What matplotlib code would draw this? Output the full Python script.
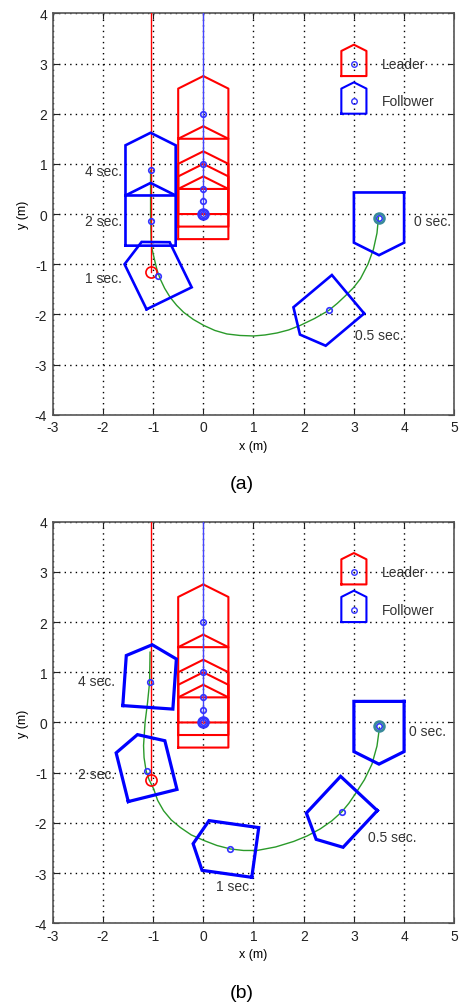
import numpy as np
import matplotlib
matplotlib.use('Agg')
import matplotlib.pyplot as plt

plt.rcParams['font.family'] = ['Liberation Sans', 'DejaVu Sans']
plt.rcParams['axes.unicode_minus'] = False

# leader: moves straight up along x = 0
leader_times = [0, 0.5, 1, 2, 4]
leader_x = [0, 0, 0, 0, 0]
leader_y = [0, 0.25, 0.5, 1.0, 2.0]

# desired follower spot (red circle) and its line
desired_x = -1.05
desired_y = -1.15

# follower snapshots, case (a)
fol_a_times = ['0 sec.', '0.5 sec.', '1 sec.', '2 sec.', '4 sec.']
fol_a_x = [3.5, 2.5, -0.9, -1.05, -1.05]
fol_a_y = [-0.07, -1.92, -1.23, -0.13, 0.87]
fol_a_head = [-90, -140, 116, 90, 90]

# follower snapshots, case (b)
fol_b_times = ['0 sec.', '0.5 sec.', '1 sec.', '2 sec.', '4 sec.']
fol_b_x = [3.5, 2.76, 0.54, -1.13, -1.07]
fol_b_y = [-0.08, -1.78, -2.52, -0.97, 0.80]
fol_b_head = [-90, -133, 172, 104, 86]

# follower paths (green)
path_a_x = [3.49, 3.46, 3.39, 3.28, 3.13, 2.99, 2.83, 2.67, 2.5, 2.22, 1.93,
            1.70, 1.47, 1.23, 1.0, 0.73, 0.47, 0.23, 0.01, -0.20, -0.39,
            -0.53, -0.66, -0.77, -0.86, -0.92, -0.96, -1.02, -1.04, -1.05,
            -1.05]
path_a_y = [-0.06, -0.38, -0.70, -1.00, -1.29, -1.47, -1.63, -1.78, -1.92,
            -2.08, -2.22, -2.31, -2.37, -2.41, -2.43, -2.42, -2.39, -2.32,
            -2.22, -2.10, -1.96, -1.82, -1.66, -1.48, -1.29, -1.12, -0.96,
            -0.70, -0.5, 0.0, 0.87]
path_b_x = [3.51, 3.46, 3.36, 3.21, 3.03, 2.90, 2.76, 2.56, 2.33, 2.07, 1.80,
            1.44, 1.07, 0.80, 0.54, 0.27, 0.01, -0.24, -0.46, -0.64, -0.79,
            -0.91, -0.99, -1.08, -1.14, -1.18, -1.19, -1.16, -1.11, -1.07,
            -1.06]
path_b_y = [-0.10, -0.47, -0.83, -1.14, -1.42, -1.61, -1.78, -1.96, -2.12,
            -2.26, -2.37, -2.48, -2.55, -2.55, -2.52, -2.45, -2.35, -2.24,
            -2.09, -1.94, -1.76, -1.55, -1.32, -1.14, -0.96, -0.70, -0.46,
            0.0, 0.40, 0.80, 1.40]


def robot(cx, cy, head, s=1.0):
    # house shaped outline: 1x1 body, nose 0.25 in front
    px = np.array([-0.5, -0.5, 0.5, 0.75, 0.5, -0.5]) * s
    py = np.array([0.5, -0.5, -0.5, 0.0, 0.5, 0.5]) * s
    t = np.radians(head)
    x = cx + px * np.cos(t) - py * np.sin(t)
    y = cy + px * np.sin(t) + py * np.cos(t)
    return x, y


def draw(ax, fx, fy, fh, labels, lab_pos, path_x, path_y, flw):
    ax.set_xlim(-3, 5)
    ax.set_ylim(-4, 4)
    ax.set_xticks(range(-3, 6))
    ax.set_yticks(range(-4, 5))
    ax.grid(True, color='k', linestyle=(0, (1, 3)), linewidth=1.0)
    ax.tick_params(direction='in', top=True, right=True, length=4,
                   labelsize=10, colors='#222222', pad=4)
    for sp in ax.spines.values():
        sp.set_color('#555555')
        sp.set_linewidth(1.2)

    # leader snapshots
    for lx, ly in zip(leader_x, leader_y):
        x, y = robot(lx, ly, 90)
        ax.plot(x, y, color='red', lw=1.5, zorder=3)
    ax.plot([0, 0], [0, 4], color='#4444ff', lw=1.0, zorder=4)
    ax.plot(leader_x, leader_y, 'o', mfc='none', mec='#3333ff', ms=4,
            mew=1.2, zorder=5)
    ax.plot(0, 0, 'o', mfc='none', mec='#3333ff', ms=7, mew=2, zorder=5)

    # follower path and snapshots
    ax.plot(path_x, path_y, color='#2a9a2a', lw=1.0, zorder=3)
    ax.plot([desired_x, desired_x], [desired_y, 4], color='red', lw=1.0,
            zorder=4)
    ax.plot(desired_x, desired_y, 'o', mfc='none', mec='red', ms=8,
            mew=1.2, zorder=5)
    for x0, y0, h in zip(fx, fy, fh):
        x, y = robot(x0, y0, h)
        ax.plot(x, y, color='blue', lw=flw, zorder=4,
                solid_joinstyle='miter')
    ax.plot(fx, fy, 'o', mfc='none', mec='#3333ff', ms=4, mew=1.2,
            zorder=6)
    ax.plot(fx[0], fy[0], 'o', mfc='none', mec='#3a8a9a', ms=7, mew=2,
            zorder=6)

    for lab, (tx, ty, ha) in zip(labels, lab_pos):
        ax.text(tx, ty, lab, fontsize=10, color='#333333', ha=ha,
                va='center', zorder=7)

    # legend drawn in data space
    for ly, col, name in [(3.0, 'red', 'Leader'), (2.25, 'blue', 'Follower')]:
        x, y = robot(3.0, ly, 90, 0.5)
        ax.plot(x, y, color=col, lw=1.5, zorder=5)
        ax.plot(3.0, ly, 'o', mfc='none', mec='#3333ff', ms=4, mew=1.0,
                zorder=6)
        ax.text(3.55, ly, name, fontsize=10, color='#333333', va='center',
                zorder=7)

    ax.set_xlabel('x (m)', fontsize=9, labelpad=4)
    ax.set_ylabel('y (m)', fontsize=9, labelpad=4)


fig = plt.figure(figsize=(4.63, 10.03), dpi=100)
ax1 = fig.add_axes([0.1138, 0.5855, 0.8674, 0.4002])
ax2 = fig.add_axes([0.1138, 0.0785, 0.8674, 0.4004])

pos_a = [(4.2, -0.13, 'left'), (3.03, -2.42, 'left'), (-1.62, -1.28, 'right'),
         (-1.62, -0.13, 'right'), (-1.62, 0.86, 'right')]
pos_b = [(4.1, -0.18, 'left'), (3.29, -2.29, 'left'), (0.26, -3.26, 'left'),
         (-1.75, -1.03, 'right'), (-1.75, 0.83, 'right')]

draw(ax1, fol_a_x, fol_a_y, fol_a_head, fol_a_times, pos_a,
     path_a_x, path_a_y, 1.9)
draw(ax2, fol_b_x, fol_b_y, fol_b_head, fol_b_times, pos_b,
     path_b_x, path_b_y, 2.3)

fig.text(0.523, 1 - 485 / 1003, '(a)', fontsize=14, ha='center', va='center')
fig.text(0.523, 1 - 994 / 1003, '(b)', fontsize=14, ha='center', va='center')

fig.savefig('out.png', dpi=100)
